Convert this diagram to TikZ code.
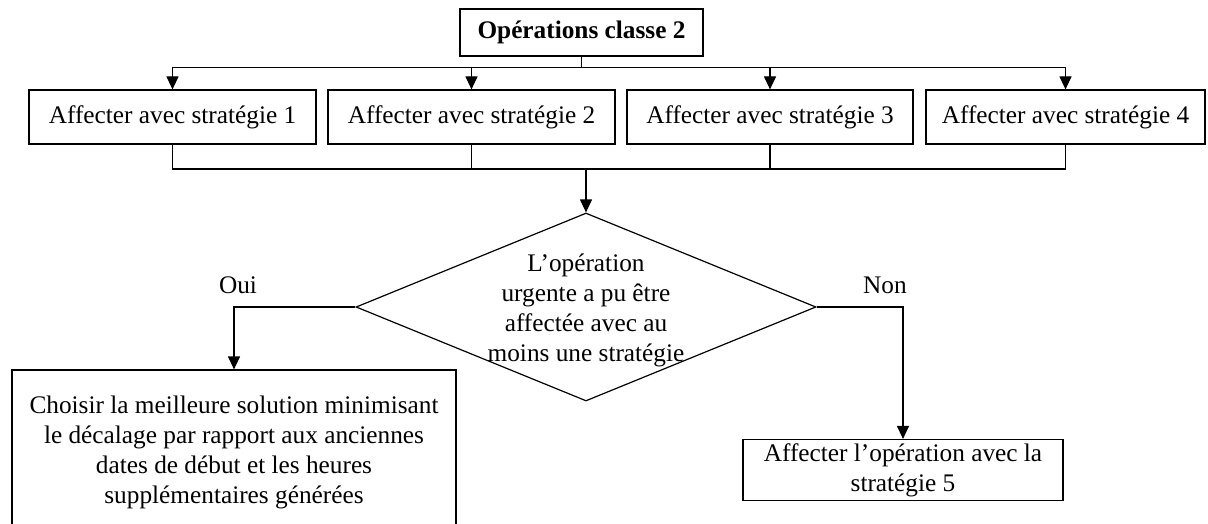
\documentclass[tikz,border=0pt]{standalone}
\usepackage{fontspec}
\setmainfont{Liberation Serif}
\usetikzlibrary{arrows.meta,shapes.geometric}
\begin{document}
\begin{tikzpicture}[x=1pt,y=-1pt,
  every node/.style={font=\fontsize{25.3}{30}\selectfont},
  box/.style={draw, line width=1.2pt, inner sep=0pt, align=center},
  conn/.style={line width=1.2pt},
  arr/.style={conn, -{Triangle[length=13pt,width=12pt]}},
]
\clip (0,0) rectangle (1208,524);
\fill[white] (0,0) rectangle (1208,524);

\node[box, minimum width=243pt, minimum height=47pt, font=\bfseries\fontsize{25.3}{30}\selectfont] (top) at (581.5,32.5) {Opérations classe 2};

\node[box, minimum width=287pt, minimum height=54pt] (s1) at (172.5,117) {Affecter avec stratégie 1};
\node[box, minimum width=287pt, minimum height=54pt] (s2) at (471.5,117) {Affecter avec stratégie 2};
\node[box, minimum width=286pt, minimum height=54pt] (s3) at (770,117) {Affecter avec stratégie 3};
\node[box, minimum width=279pt, minimum height=54pt] (s4) at (1065.5,117) {Affecter avec stratégie 4};

\coordinate (j1) at (0,67.5);
\coordinate (j2) at (0,169);

\node[draw, diamond, line width=1.2pt, minimum width=460pt, minimum height=188pt, inner sep=0pt] (dec) at (586,307) {};
\node[align=center, inner sep=0pt] (dect) at (586,310) {L’opération\\urgente a pu être\\affectée avec au\\moins une stratégie};

\node[box, minimum width=444pt, minimum height=164pt] (c1) at (234,452) {Choisir la meilleure solution minimisant\\le décalage par rapport aux anciennes\\dates de début et les heures\\supplémentaires générées};
\node[box, minimum width=320pt, minimum height=61pt] (c2) at (903,470) {Affecter l’opération avec la\\stratégie 5};

\node (oui) at (238,285) {Oui};
\node (non) at (885,285) {Non};

% top distribution
\draw[conn] (top.south) -- (top.south |- j1);
\draw[conn] (s1.north |- j1) -- (s4.north |- j1);
\foreach \s in {s1,s2,s3,s4} \draw[arr] (\s.north |- j1) -- (\s.north);

% gathering
\draw[conn] (s1.south) -- (s1.south |- j2) -- (s4.south |- j2) -- (s4.south);
\draw[conn] (s2.south) -- (s2.south |- j2);
\draw[conn] (s3.south) -- (s3.south |- j2);
\draw[arr] (dec.north |- j2) -- (dec.north);

% decision branches
\draw[arr] (dec.west) -| (c1.north);
\draw[arr] (dec.east) -| (c2.north);
\end{tikzpicture}
\end{document}
